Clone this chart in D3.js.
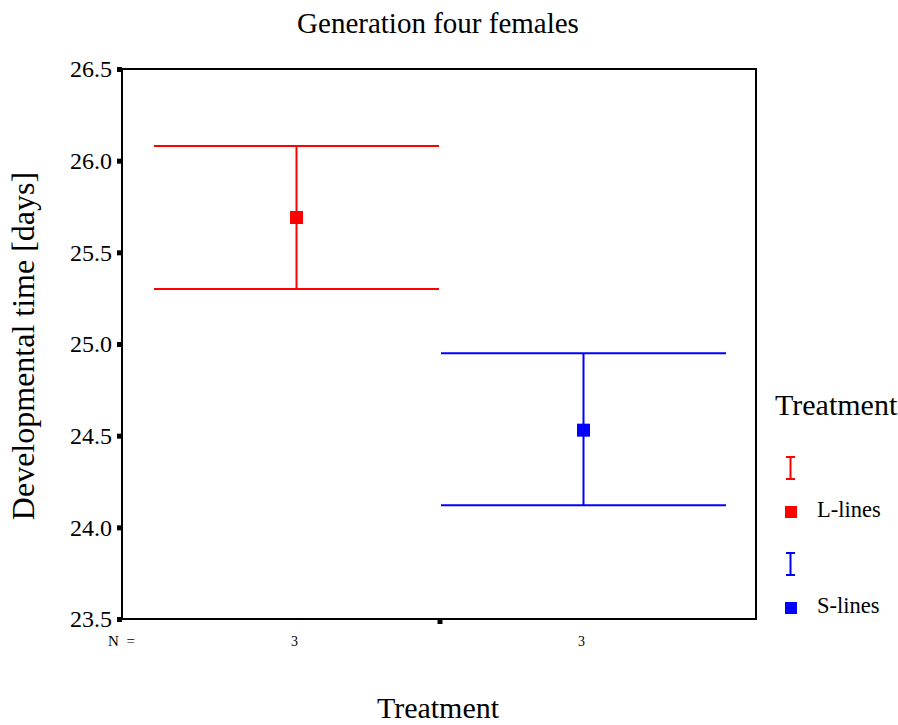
<!DOCTYPE html>
<html>
<head>
<meta charset="utf-8">
<script src="https://cdn.jsdelivr.net/npm/d3@7"></script>
<style>
  body { margin: 0; background: #fff; }
  svg text { font-family: "Liberation Serif", "Times New Roman", serif; fill: #000; }
</style>
</head>
<body>
<div class="chart"></div>
<script>
// treatment groups, means and error bar limits (days)
const groups = ["L-lines", "S-lines"];
const means = [25.69, 24.53];
const lower = [25.30, 24.12];
const upper = [26.08, 24.95];
const counts = [3, 3];
const colors = ["#ff0000", "#0000ff"];
const yTicks = [23.5, 24.0, 24.5, 25.0, 25.5, 26.0, 26.5];

const w = 898;
const h = 725;
const frame = { left: 122, right: 756, top: 69, bottom: 619 };

const svg = d3.select(".chart")
  .append("svg")
  .attr("width", w)
  .attr("height", h);

svg.append("rect").attr("width", w).attr("height", h).attr("fill", "#fff");

const xScale = d3.scaleBand()
  .domain(groups)
  .range([153, 727])
  .padding(0);

const yScale = d3.scaleLinear()
  .domain([23.5, 26.5])
  .range([frame.bottom, frame.top]);

// plot frame
svg.append("rect")
  .attr("x", frame.left)
  .attr("y", frame.top)
  .attr("width", frame.right - frame.left)
  .attr("height", frame.bottom - frame.top)
  .attr("fill", "none")
  .attr("stroke", "#000")
  .attr("stroke-width", 2);

// y axis: labels plus square tick marks
const yAxis = d3.axisLeft(yScale)
  .tickValues(yTicks)
  .tickFormat(d3.format(".1f"))
  .tickSize(0)
  .tickPadding(10);

const gy = svg.append("g")
  .attr("id", "y-axis")
  .attr("transform", `translate(${frame.left}, 0)`)
  .call(yAxis);
gy.select(".domain").remove();
gy.selectAll(".tick text")
  .attr("font-family", "Liberation Serif")
  .attr("font-size", 24);
gy.selectAll(".tick")
  .append("rect")
  .attr("x", -5)
  .attr("y", -2.5)
  .attr("width", 5)
  .attr("height", 5)
  .attr("fill", "#000");

// x axis tick between the two groups
svg.append("rect")
  .attr("x", xScale(groups[1]) - 2.5)
  .attr("y", frame.bottom)
  .attr("width", 5)
  .attr("height", 5)
  .attr("fill", "#000");

// N counts under the axis
svg.append("text")
  .attr("x", 108)
  .attr("y", 646)
  .attr("font-size", 15)
  .attr("word-spacing", 4)
  .text("N =");

svg.selectAll(".count")
  .data(groups)
  .enter()
  .append("text")
  .attr("class", "count")
  .attr("x", d => xScale(d) + xScale.bandwidth() / 2 - 2)
  .attr("y", 646)
  .attr("text-anchor", "middle")
  .attr("font-size", 14)
  .text((d, i) => counts[i]);

// error bars
const capHalf = 142.5;
const bars = svg.selectAll(".errbar")
  .data(groups)
  .enter()
  .append("g")
  .attr("class", "errbar")
  .attr("stroke", (d, i) => colors[i])
  .attr("stroke-width", 2);

bars.append("line")
  .attr("x1", d => xScale(d) + xScale.bandwidth() / 2)
  .attr("x2", d => xScale(d) + xScale.bandwidth() / 2)
  .attr("y1", (d, i) => yScale(upper[i]))
  .attr("y2", (d, i) => yScale(lower[i]));

bars.append("line")
  .attr("x1", d => xScale(d) + xScale.bandwidth() / 2 - capHalf)
  .attr("x2", d => xScale(d) + xScale.bandwidth() / 2 + capHalf)
  .attr("y1", (d, i) => yScale(upper[i]))
  .attr("y2", (d, i) => yScale(upper[i]));

bars.append("line")
  .attr("x1", d => xScale(d) + xScale.bandwidth() / 2 - capHalf)
  .attr("x2", d => xScale(d) + xScale.bandwidth() / 2 + capHalf)
  .attr("y1", (d, i) => yScale(lower[i]))
  .attr("y2", (d, i) => yScale(lower[i]));

// mean markers
const ms = 13;
svg.selectAll(".mean")
  .data(groups)
  .enter()
  .append("rect")
  .attr("class", "mean")
  .attr("x", d => xScale(d) + xScale.bandwidth() / 2 - ms / 2)
  .attr("y", (d, i) => yScale(means[i]) - ms / 2)
  .attr("width", ms)
  .attr("height", ms)
  .attr("fill", (d, i) => colors[i]);

// titles
svg.append("text")
  .attr("x", 438)
  .attr("y", 33)
  .attr("text-anchor", "middle")
  .attr("font-size", 29)
  .text("Generation four females");

svg.append("text")
  .attr("transform", "translate(34, 346) rotate(-90)")
  .attr("text-anchor", "middle")
  .attr("font-size", 32)
  .text("Developmental time [days]");

svg.append("text")
  .attr("x", 438)
  .attr("y", 718)
  .attr("text-anchor", "middle")
  .attr("font-size", 30)
  .text("Treatment");

// legend
const legend = svg.append("g").attr("transform", "translate(775, 0)");
legend.append("text")
  .attr("x", 0)
  .attr("y", 415)
  .attr("font-size", 30)
  .text("Treatment");

const items = legend.selectAll(".item")
  .data(groups)
  .enter()
  .append("g")
  .attr("class", "item")
  .attr("transform", (d, i) => `translate(0, ${i * 96})`);

items.append("path")
  .attr("d", "M11,457 H20 M15.5,457 V479 M11,479 H20")
  .attr("fill", "none")
  .attr("stroke", (d, i) => colors[i])
  .attr("stroke-width", 2);

items.append("rect")
  .attr("x", 10)
  .attr("y", 506)
  .attr("width", 12)
  .attr("height", 12)
  .attr("fill", (d, i) => colors[i]);

items.append("text")
  .attr("x", 42)
  .attr("y", 517)
  .attr("font-size", 22.5)
  .text(d => d);
</script>
</body>
</html>
